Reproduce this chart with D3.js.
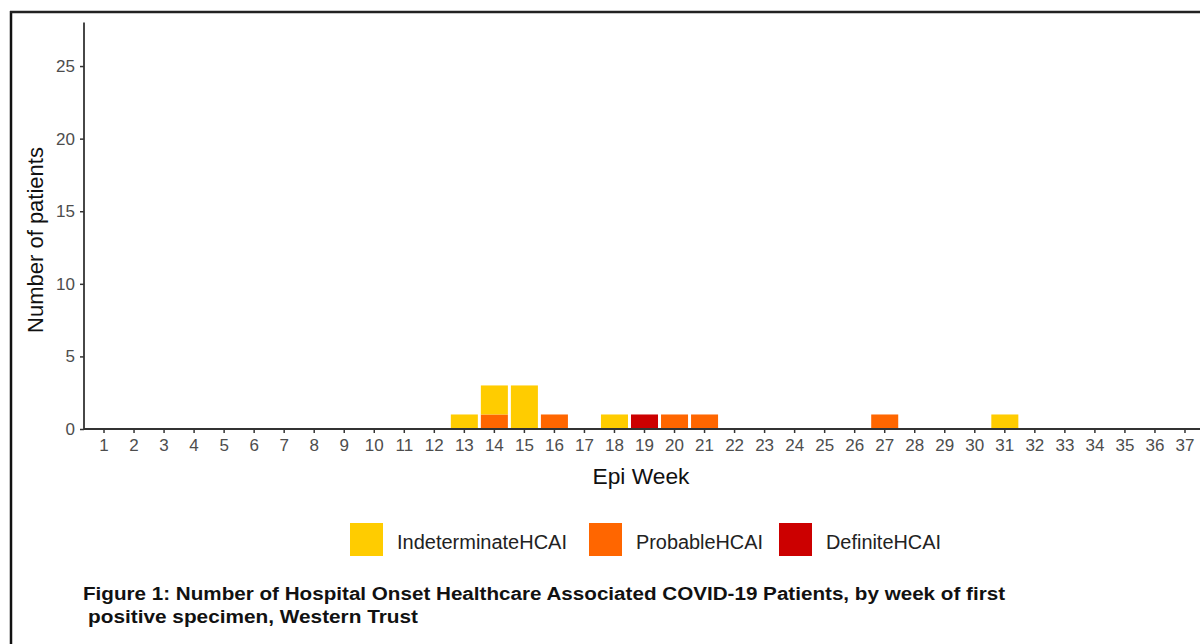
<!DOCTYPE html>
<html><head><meta charset="utf-8">
<script src="https://cdn.jsdelivr.net/npm/d3@7"></script>
<style>body{margin:0;background:#fff}svg{display:block}</style>
</head><body>
<svg id="c" width="1200" height="644"></svg>
<script>
const weeks = d3.range(1, 38);
const seriesNames = ["DefiniteHCAI", "ProbableHCAI", "IndeterminateHCAI"];
const legendOrder = ["IndeterminateHCAI", "ProbableHCAI", "DefiniteHCAI"];
const colors = {IndeterminateHCAI: "#FFCC00", ProbableHCAI: "#FF6600", DefiniteHCAI: "#CC0000"};
// counts per week (weeks with nonzero values)
const indeterminate = {13: 1, 14: 2, 15: 3, 18: 1, 31: 1};
const probable = {14: 1, 16: 1, 20: 1, 21: 1, 27: 1};
const definite = {19: 1};
const yTicks = [0, 5, 10, 15, 20, 25];
const caption1 = "Figure 1: Number of Hospital Onset Healthcare Associated COVID-19 Patients, by week of first";
const caption2 = "positive specimen, Western Trust";

const rows = weeks.map(w => ({week: w,
  IndeterminateHCAI: indeterminate[w] || 0,
  ProbableHCAI: probable[w] || 0,
  DefiniteHCAI: definite[w] || 0}));

const svg = d3.select("#c");
const font = "Liberation Sans, Arial, sans-serif";

// frame
svg.append("line").attr("x1", 11).attr("x2", 11).attr("y1", 11).attr("y2", 644).attr("stroke", "#111").attr("stroke-width", 2.5);
svg.append("line").attr("x1", 10).attr("x2", 1200).attr("y1", 12).attr("y2", 12).attr("stroke", "#222").attr("stroke-width", 2.5);

const x = d3.scaleBand().domain(weeks).range([89, 1200]).paddingInner(0.1).paddingOuter(0.05);
const y = d3.scaleLinear().domain([0, 28]).range([429, 22.5]);

const stack = d3.stack().keys(seriesNames)(rows);
svg.append("g").selectAll("g").data(stack).join("g")
  .attr("fill", d => colors[d.key])
  .selectAll("rect").data(d => d.filter(p => p[1] > p[0])).join("rect")
  .attr("x", d => x(d.data.week))
  .attr("width", x.bandwidth())
  .attr("y", d => y(d[1]))
  .attr("height", d => y(d[0]) - y(d[1]));

// axes
const xa = svg.append("g").attr("transform", "translate(0,429)")
  .call(d3.axisBottom(x).tickSize(4).tickSizeOuter(0).tickPadding(6));
xa.select(".domain").remove();
xa.selectAll(".tick line").attr("stroke", "#333").attr("stroke-width", 1.5);
xa.selectAll("text").attr("fill", "#4d4d4d").style("font-family", font).style("font-size", "17px");

const ya = svg.append("g").attr("transform", "translate(84,0)")
  .call(d3.axisLeft(y).tickValues(yTicks).tickSize(4).tickSizeOuter(0).tickPadding(5));
ya.select(".domain").remove();
ya.selectAll(".tick line").attr("stroke", "#333").attr("stroke-width", 1.5);
ya.selectAll("text").attr("fill", "#4d4d4d").style("font-family", font).style("font-size", "17px");

svg.append("line").attr("x1", 84).attr("x2", 1200).attr("y1", 429).attr("y2", 429).attr("stroke", "#333").attr("stroke-width", 1.8);
svg.append("line").attr("x1", 84).attr("x2", 84).attr("y1", 22.5).attr("y2", 429).attr("stroke", "#333").attr("stroke-width", 1.8);

// axis titles
svg.append("text").attr("x", 641).attr("y", 484).attr("text-anchor", "middle")
  .attr("textLength", 97).attr("lengthAdjust", "spacingAndGlyphs")
  .style("font-family", font).style("font-size", "22px").attr("fill", "#111").text("Epi Week");
svg.append("text").attr("transform", "translate(43,240) rotate(-90)").attr("text-anchor", "middle")
  .style("font-family", font).style("font-size", "22px").attr("fill", "#111").text("Number of patients");

// legend
const legX = {IndeterminateHCAI: 350, ProbableHCAI: 589, DefiniteHCAI: 779};
const legW = {IndeterminateHCAI: 170, ProbableHCAI: 127, DefiniteHCAI: 115};
const lg = svg.append("g").selectAll("g").data(legendOrder).join("g");
lg.append("rect").attr("x", d => legX[d]).attr("y", 523).attr("width", 33).attr("height", 33).attr("fill", d => colors[d]);
lg.append("text").attr("x", d => legX[d] + 47).attr("y", 549)
  .attr("textLength", d => legW[d]).attr("lengthAdjust", "spacingAndGlyphs")
  .style("font-family", font).style("font-size", "19.5px").attr("fill", "#222").text(d => d);

// caption
svg.append("text").attr("x", 83).attr("y", 600).attr("textLength", 922).attr("lengthAdjust", "spacingAndGlyphs")
  .style("font-family", font).style("font-size", "17.5px").style("font-weight", "bold").attr("fill", "#111").text(caption1);
svg.append("text").attr("x", 88).attr("y", 623).attr("textLength", 330).attr("lengthAdjust", "spacingAndGlyphs")
  .style("font-family", font).style("font-size", "17.5px").style("font-weight", "bold").attr("fill", "#111").text(caption2);
</script>
</body></html>
